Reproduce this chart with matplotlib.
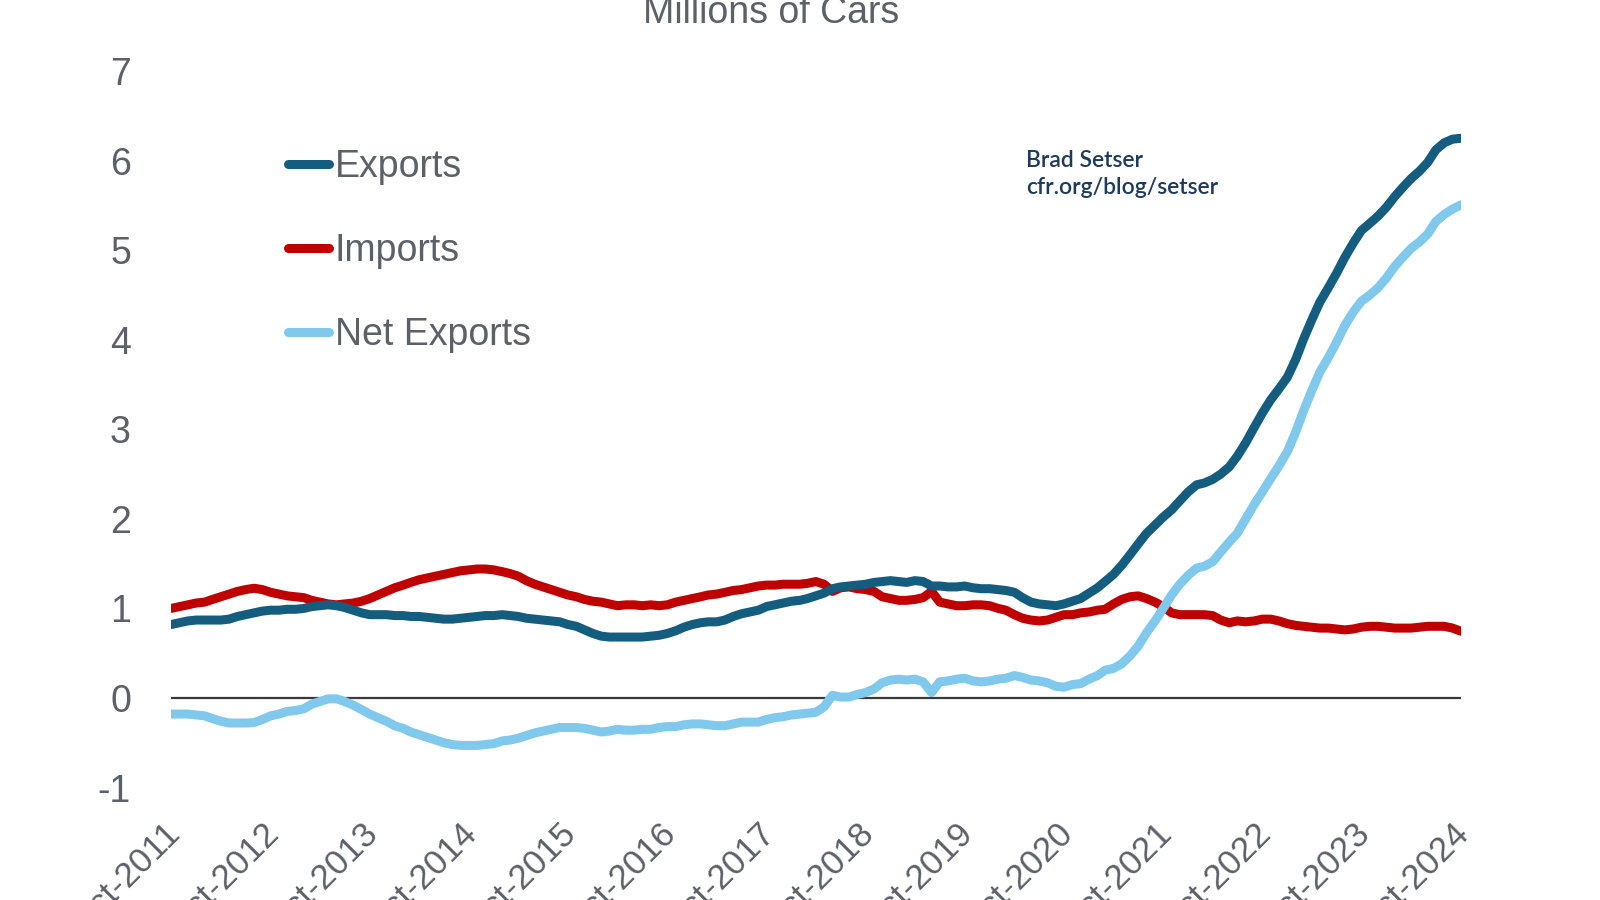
import numpy as np
import pandas as pd
import matplotlib
matplotlib.use("Agg")
import matplotlib.pyplot as plt
import matplotlib.transforms as mtransforms

# Rolling 12m totals, millions of cars, monthly from Oct-2011 to Oct-2024
fechas = pd.date_range("2011-10-01", "2024-10-01", freq="MS")

exports = [
    0.82, 0.84, 0.86, 0.87, 0.87, 0.87, 0.87, 0.88, 0.91, 0.93, 0.95, 0.97,
    0.98, 0.98, 0.99, 0.99, 1.00, 1.02, 1.03, 1.04, 1.03, 1.01, 0.98, 0.95,
    0.93, 0.93, 0.93, 0.92, 0.92, 0.91, 0.91, 0.90, 0.89, 0.88, 0.88, 0.89,
    0.90, 0.91, 0.92, 0.92, 0.93, 0.92, 0.91, 0.89, 0.88, 0.87, 0.86, 0.85,
    0.82, 0.80, 0.76, 0.72, 0.69, 0.68, 0.68, 0.68, 0.68, 0.68, 0.69, 0.70,
    0.72, 0.75, 0.79, 0.82, 0.84, 0.85, 0.85, 0.87, 0.91, 0.94, 0.96, 0.98,
    1.02, 1.04, 1.06, 1.08, 1.09, 1.11, 1.14, 1.17, 1.22, 1.24, 1.25, 1.26,
    1.27, 1.29, 1.30, 1.31, 1.30, 1.29, 1.31, 1.30, 1.25, 1.25, 1.24, 1.24,
    1.25, 1.23, 1.22, 1.22, 1.21, 1.20, 1.18, 1.12, 1.07, 1.05, 1.04, 1.03,
    1.05, 1.08, 1.11, 1.17, 1.23, 1.30, 1.38, 1.48, 1.60, 1.72, 1.84, 1.93,
    2.02, 2.10, 2.20, 2.30, 2.38, 2.40, 2.44, 2.50, 2.58, 2.70, 2.85, 3.02,
    3.18, 3.33, 3.45, 3.58, 3.78, 4.00, 4.22, 4.42, 4.58, 4.74, 4.92, 5.08,
    5.22, 5.30, 5.38, 5.48, 5.60, 5.70, 5.80, 5.88, 5.98, 6.12, 6.20, 6.24,
    6.25,
]

imports = [
    1.00, 1.02, 1.04, 1.06, 1.07, 1.10, 1.13, 1.16, 1.19, 1.21, 1.225, 1.21,
    1.18, 1.16, 1.14, 1.13, 1.12, 1.09, 1.07, 1.05, 1.04, 1.05, 1.06, 1.08,
    1.11, 1.15, 1.19, 1.23, 1.26, 1.29, 1.32, 1.34, 1.36, 1.38, 1.40, 1.42,
    1.43, 1.44, 1.44, 1.43, 1.41, 1.39, 1.36, 1.31, 1.27, 1.24, 1.21, 1.18,
    1.15, 1.13, 1.10, 1.08, 1.07, 1.05, 1.03, 1.04, 1.04, 1.03, 1.04, 1.03,
    1.04, 1.07, 1.09, 1.11, 1.13, 1.15, 1.16, 1.18, 1.20, 1.21, 1.23, 1.25,
    1.26, 1.26, 1.27, 1.27, 1.27, 1.28, 1.30, 1.27, 1.19, 1.23, 1.24, 1.22,
    1.21, 1.19, 1.13, 1.11, 1.09, 1.09, 1.10, 1.12, 1.19, 1.07, 1.05, 1.03,
    1.03, 1.04, 1.04, 1.03, 1.00, 0.98, 0.93, 0.89, 0.87, 0.86, 0.87, 0.90,
    0.93, 0.93, 0.95, 0.96, 0.98, 0.99, 1.05, 1.10, 1.13, 1.14, 1.11, 1.07,
    1.02, 0.95, 0.93, 0.93, 0.93, 0.93, 0.92, 0.87, 0.84, 0.86, 0.85, 0.86,
    0.88, 0.88, 0.86, 0.83, 0.81, 0.80, 0.79, 0.78, 0.78, 0.77, 0.76, 0.77,
    0.79, 0.80, 0.80, 0.79, 0.78, 0.78, 0.78, 0.79, 0.80, 0.80, 0.80, 0.78,
    0.745,
]

y_ticks = [-1, 0, 1, 2, 3, 4, 5, 6, 7]
x_ticks = pd.date_range("2011-10-01", "2024-10-01", freq="12MS")
x_labels = [d.strftime("%b-%Y") for d in x_ticks]

df = pd.DataFrame({"exports": exports, "imports": imports}, index=fechas)
df["net"] = df["exports"] - df["imports"]

gris = "#5b6169"
c_exp = "#155d7f"
c_imp = "#c00000"
c_net = "#80c9ec"

plt.rcParams["font.family"] = ["Liberation Sans", "DejaVu Sans"]

fig = plt.figure(figsize=(16, 9), dpi=100)
ax = fig.add_axes([0.107, 0.125, 0.806, 0.796])

ax.axhline(0, color="#3a3a3a", lw=1.6, zorder=1)
ax.plot(df.index, df["exports"], color=c_exp, lw=6.5, label="Exports", solid_capstyle="round", zorder=3)
ax.plot(df.index, df["imports"], color=c_imp, lw=6.5, label="Imports", solid_capstyle="round", zorder=2)
ax.plot(df.index, df["net"], color=c_net, lw=6.5, label="Net Exports", solid_capstyle="round", zorder=2)

ax.set_xlim(fechas[0], fechas[-1])
ax.set_ylim(-1, 7)
ax.set_yticks(y_ticks)
ax.set_yticklabels([str(v) for v in y_ticks])
ax.set_xticks(x_ticks)
ax.set_xticklabels(x_labels, rotation=45, ha="right")
ax.tick_params(axis="y", length=0, pad=29, labelsize=27, labelcolor=gris)
ax.tick_params(axis="x", length=0, pad=21, labelsize=25, labelcolor=gris)
desplaza = mtransforms.ScaledTranslation(15 / 100, 0, fig.dpi_scale_trans)
for lab in ax.get_xticklabels():
    lab.set_transform(lab.get_transform() + desplaza)
for s in ax.spines.values():
    s.set_visible(False)

leg = ax.legend(loc="upper left", bbox_to_anchor=(0.18, 0.834), bbox_transform=fig.transFigure,
                frameon=False, fontsize=27, handlelength=1.1, handletextpad=0.15,
                labelspacing=1.27, borderpad=0, borderaxespad=0)
for t in leg.get_texts():
    t.set_color(gris)

fig.text(0.482, 1 - 23 / 900, "Millions of Cars", ha="center", va="baseline",
         fontsize=27, color=gris)
fig.text(1026 / 1600, 1 - 174 / 900, "Brad Setser\ncfr.org/blog/setser", ha="left", va="center",
         fontsize=16.5, color="#1f3b5c", family=["Lato", "DejaVu Sans"], weight="semibold",
         linespacing=1.3)

fig.savefig("out.png", dpi=100)
